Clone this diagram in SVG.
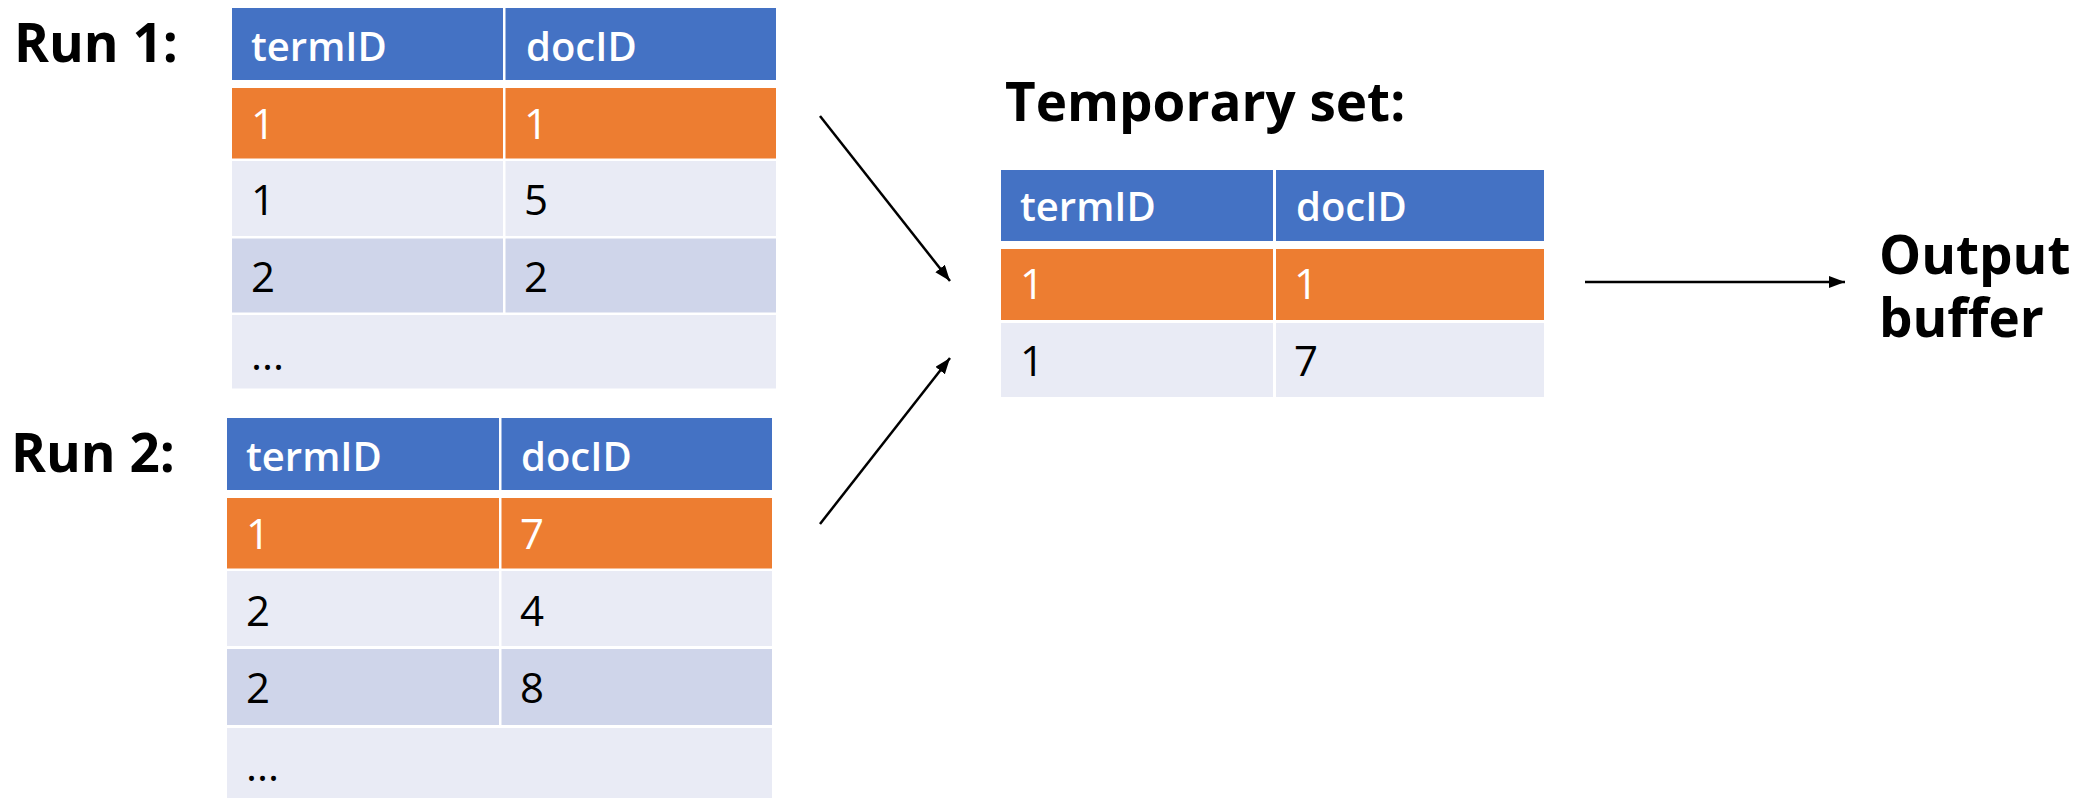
<svg xmlns="http://www.w3.org/2000/svg" width="2098" height="798" viewBox="0 0 2098 798">
<style>
.hd{fill:#4472C4}
.or{fill:#ED7D31}
.l1{fill:#E9EBF5}
.l2{fill:#CFD5EA}
.ht{font-family:"Open Sans","Liberation Sans",sans-serif;font-weight:600;font-size:40px;fill:#ffffff}
.wt{font-family:"Open Sans","Liberation Sans",sans-serif;font-size:42px;fill:#ffffff}
.dt{font-family:"Open Sans","Liberation Sans",sans-serif;font-size:42px;fill:#000000}
.lb{font-family:"Open Sans","Liberation Sans",sans-serif;font-weight:bold;font-size:53px;fill:#000000}
.cn{stroke:#000;stroke-width:2.5;fill:none}
</style>
<defs>
<marker id="ah" markerUnits="userSpaceOnUse" markerWidth="18" markerHeight="14" refX="16" refY="6" orient="auto">
<path d="M0,0 L16,6 L0,12 Z" fill="#000"/>
</marker>
</defs>
<rect width="2098" height="798" fill="#ffffff"/>

<g id="run1-label"><text class="lb" x="14" y="62">Run 1:</text></g>
<g id="run1-table">
<rect class="hd" x="232" y="8" width="271" height="72"/>
<rect class="hd" x="505.5" y="8" width="270.5" height="72"/>
<rect class="or" x="232" y="88" width="271" height="70.5"/>
<rect class="or" x="505.5" y="88" width="270.5" height="70.5"/>
<rect class="l1" x="232" y="161" width="271" height="75"/>
<rect class="l1" x="505.5" y="161" width="270.5" height="75"/>
<rect class="l2" x="232" y="238.5" width="271" height="74"/>
<rect class="l2" x="505.5" y="238.5" width="270.5" height="74"/>
<rect class="l1" x="232" y="315" width="544" height="73.5"/>
<text class="ht" x="251" y="61">termID</text>
<text class="ht" x="526" y="61">docID</text>
<text class="wt" x="251" y="139">1</text>
<text class="wt" x="524" y="139">1</text>
<text class="dt" x="251" y="215">1</text>
<text class="dt" x="524" y="215">5</text>
<text class="dt" x="251" y="292">2</text>
<text class="dt" x="524" y="292">2</text>
<text class="dt" x="251" y="370">...</text>
</g>

<g id="run2-label"><text class="lb" x="11" y="472">Run 2:</text></g>
<g id="run2-table">
<rect class="hd" x="227" y="418" width="272" height="72"/>
<rect class="hd" x="501.5" y="418" width="270.5" height="72"/>
<rect class="or" x="227" y="498" width="272" height="70.5"/>
<rect class="or" x="501.5" y="498" width="270.5" height="70.5"/>
<rect class="l1" x="227" y="571" width="272" height="75"/>
<rect class="l1" x="501.5" y="571" width="270.5" height="75"/>
<rect class="l2" x="227" y="649" width="272" height="76"/>
<rect class="l2" x="501.5" y="649" width="270.5" height="76"/>
<rect class="l1" x="227" y="728" width="545" height="75"/>
<text class="ht" x="246" y="471">termID</text>
<text class="ht" x="521" y="471">docID</text>
<text class="wt" x="246" y="549">1</text>
<text class="wt" x="520" y="549">7</text>
<text class="dt" x="246" y="626">2</text>
<text class="dt" x="520" y="626">4</text>
<text class="dt" x="246" y="703">2</text>
<text class="dt" x="520" y="703">8</text>
<text class="dt" x="246" y="781">...</text>
</g>

<g id="temp-label"><text class="lb" x="1005" y="121">Temporary set:</text></g>
<g id="temp-table">
<rect class="hd" x="1001" y="170" width="272" height="71"/>
<rect class="hd" x="1276" y="170" width="268" height="71"/>
<rect class="or" x="1001" y="249" width="272" height="71"/>
<rect class="or" x="1276" y="249" width="268" height="71"/>
<rect class="l1" x="1001" y="323" width="272" height="74"/>
<rect class="l1" x="1276" y="323" width="268" height="74"/>
<text class="ht" x="1020" y="221">termID</text>
<text class="ht" x="1296" y="221">docID</text>
<text class="wt" x="1020" y="299">1</text>
<text class="wt" x="1294" y="299">1</text>
<text class="dt" x="1020" y="376">1</text>
<text class="dt" x="1294" y="376">7</text>
</g>

<g id="output-label">
<text class="lb" x="1879" y="274">Output</text>
<text class="lb" x="1879" y="337">buffer</text>
</g>

<g id="connectors">
<line class="cn" x1="820" y1="116" x2="950" y2="281" marker-end="url(#ah)"/>
<line class="cn" x1="820" y1="524" x2="950" y2="358" marker-end="url(#ah)"/>
<line class="cn" x1="1585" y1="282" x2="1845" y2="282" marker-end="url(#ah)"/>
</g>
</svg>
